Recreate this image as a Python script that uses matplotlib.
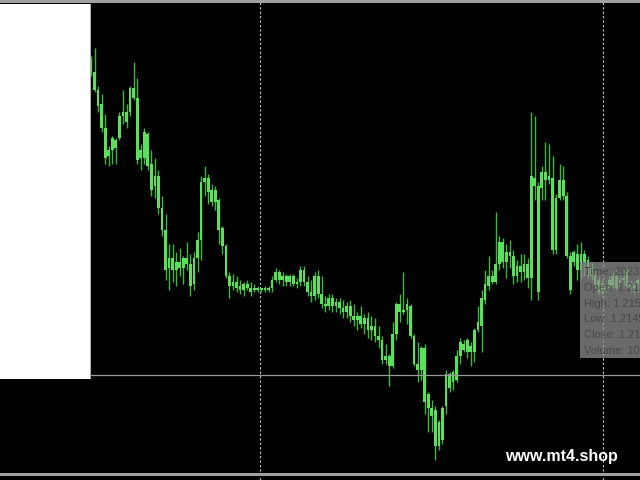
import matplotlib.pyplot as plt
from matplotlib.patches import Rectangle
from matplotlib.lines import Line2D

# candle data (EURUSD-like M-something chart), oldest -> newest
opens = [1.2270, 1.2264, 1.2255, 1.2248, 1.2236, 1.2222, 1.2225, 1.2226, 1.2231, 1.2242,
         1.2244, 1.2244, 1.2256, 1.2251, 1.2221, 1.2221, 1.2233, 1.2218, 1.2207, 1.2212,
         1.2196, 1.2185, 1.2166, 1.2171, 1.2165, 1.2169, 1.2166, 1.2171, 1.2168, 1.2158,
         1.2171, 1.2180, 1.2209, 1.2211, 1.2205, 1.2199, 1.2200, 1.2186, 1.2177, 1.2162,
         1.2157, 1.2159, 1.2157, 1.2155, 1.2158, 1.2156, 1.2155, 1.2156, 1.2155, 1.2156,
         1.2155, 1.2156, 1.2160, 1.2164, 1.2160, 1.2162, 1.2159, 1.2162, 1.2158, 1.2159,
         1.2165, 1.2159, 1.2154, 1.2152, 1.2162, 1.2153, 1.2148, 1.2147, 1.2151, 1.2147,
         1.2149, 1.2146, 1.2144, 1.2147, 1.2142, 1.2140, 1.2142, 1.2138, 1.2141, 1.2135,
         1.2137, 1.2132, 1.2130, 1.2120, 1.2122, 1.2117, 1.2133, 1.2148, 1.2144, 1.2145,
         1.2147, 1.2132, 1.2118, 1.2115, 1.2126, 1.2103, 1.2096, 1.2095, 1.2077, 1.2080,
         1.2097, 1.2113, 1.2109, 1.2110, 1.2122, 1.2128, 1.2124, 1.2127, 1.2124, 1.2135,
         1.2137, 1.2150, 1.2157, 1.2162, 1.2159, 1.2168, 1.2179, 1.2169, 1.2174, 1.2172,
         1.2162, 1.2167, 1.2164, 1.2168, 1.2161, 1.2211, 1.2207, 1.2206, 1.2214, 1.2210,
         1.2211, 1.2175, 1.2201, 1.2210, 1.2202, 1.2172, 1.2169, 1.2173, 1.2165, 1.2173,
         1.2170, 1.2166, 1.2163, 1.2160, 1.2154, 1.2157, 1.2156, 1.2157, 1.2162, 1.2157,
         1.2160, 1.2164, 1.2158, 1.2156, 1.2158]
highs = [1.2272, 1.2276, 1.2257, 1.2253, 1.2243, 1.2227, 1.2232, 1.2231, 1.2244, 1.2255,
         1.2248, 1.2257, 1.2269, 1.2261, 1.2228, 1.2236, 1.2234, 1.2225, 1.2221, 1.2215,
         1.2202, 1.2193, 1.2178, 1.2178, 1.2174, 1.2176, 1.2172, 1.2179, 1.2173, 1.2174,
         1.2184, 1.2212, 1.2217, 1.2213, 1.2208, 1.2207, 1.2201, 1.2187, 1.2178, 1.2164,
         1.2163, 1.2162, 1.2160, 1.2159, 1.2160, 1.2159, 1.2158, 1.2157, 1.2156, 1.2157,
         1.2157, 1.2162, 1.2166, 1.2165, 1.2164, 1.2163, 1.2163, 1.2163, 1.2161, 1.2167,
         1.2167, 1.2162, 1.2160, 1.2164, 1.2165, 1.2162, 1.2152, 1.2153, 1.2153, 1.2151,
         1.2151, 1.2150, 1.2149, 1.2150, 1.2148, 1.2144, 1.2147, 1.2143, 1.2144, 1.2142,
         1.2141, 1.2137, 1.2132, 1.2128, 1.2123, 1.2139, 1.2149, 1.2153, 1.2164, 1.2151,
         1.2148, 1.2133, 1.2129, 1.2127, 1.2128, 1.2104, 1.2100, 1.2097, 1.2090, 1.2097,
         1.2115, 1.2114, 1.2115, 1.2125, 1.2131, 1.2130, 1.2131, 1.2129, 1.2136, 1.2147,
         1.2155, 1.2165, 1.2172, 1.2165, 1.2194, 1.2182, 1.2181, 1.2178, 1.2180, 1.2175,
         1.2170, 1.2173, 1.2173, 1.2171, 1.2244, 1.2242, 1.2209, 1.2217, 1.2229, 1.2228,
         1.2222, 1.2203, 1.2218, 1.2217, 1.2204, 1.2174, 1.2175, 1.2178, 1.2179, 1.2175,
         1.2172, 1.2169, 1.2165, 1.2162, 1.2160, 1.2158, 1.2162, 1.2164, 1.2165, 1.2162,
         1.2165, 1.2166, 1.2160, 1.2159, 1.2161]
lows = [1.2262, 1.2254, 1.2244, 1.2234, 1.2218, 1.2217, 1.2218, 1.2218, 1.2230, 1.2238,
        1.2236, 1.2242, 1.2250, 1.2218, 1.2215, 1.2218, 1.2215, 1.2202, 1.2201, 1.2193,
        1.2182, 1.2160, 1.2155, 1.2159, 1.2157, 1.2162, 1.2158, 1.2165, 1.2152, 1.2155,
        1.2164, 1.2170, 1.2202, 1.2198, 1.2197, 1.2195, 1.2178, 1.2173, 1.2161, 1.2151,
        1.2155, 1.2154, 1.2153, 1.2152, 1.2155, 1.2152, 1.2154, 1.2154, 1.2154, 1.2154,
        1.2154, 1.2154, 1.2159, 1.2158, 1.2157, 1.2157, 1.2157, 1.2157, 1.2156, 1.2157,
        1.2157, 1.2152, 1.2149, 1.2150, 1.2151, 1.2146, 1.2144, 1.2145, 1.2144, 1.2144,
        1.2143, 1.2141, 1.2141, 1.2139, 1.2137, 1.2135, 1.2136, 1.2133, 1.2131, 1.2130,
        1.2129, 1.2126, 1.2118, 1.2118, 1.2107, 1.2116, 1.2130, 1.2139, 1.2143, 1.2138,
        1.2131, 1.2117, 1.2109, 1.2110, 1.2093, 1.2084, 1.2084, 1.2070, 1.2075, 1.2078,
        1.2093, 1.2104, 1.2105, 1.2109, 1.2118, 1.2124, 1.2121, 1.2117, 1.2119, 1.2134,
        1.2124, 1.2148, 1.2155, 1.2158, 1.2158, 1.2165, 1.2166, 1.2161, 1.2166, 1.2158,
        1.2159, 1.2159, 1.2160, 1.2156, 1.2150, 1.2200, 1.2150, 1.2200, 1.2200, 1.2208,
        1.2173, 1.2173, 1.2200, 1.2200, 1.2171, 1.2153, 1.2167, 1.2160, 1.2161, 1.2162,
        1.2161, 1.2160, 1.2156, 1.2153, 1.2153, 1.2154, 1.2155, 1.2156, 1.2155, 1.2156,
        1.2157, 1.2156, 1.2154, 1.2153, 1.2154]
closes = [1.2264, 1.2255, 1.2247, 1.2236, 1.2221, 1.2225, 1.2231, 1.2230, 1.2242, 1.2244,
          1.2239, 1.2256, 1.2251, 1.2220, 1.2225, 1.2234, 1.2217, 1.2205, 1.2212, 1.2196,
          1.2185, 1.2165, 1.2171, 1.2165, 1.2169, 1.2166, 1.2171, 1.2168, 1.2157, 1.2171,
          1.2180, 1.2209, 1.2211, 1.2204, 1.2199, 1.2205, 1.2185, 1.2177, 1.2162, 1.2157,
          1.2159, 1.2156, 1.2155, 1.2158, 1.2156, 1.2154, 1.2156, 1.2155, 1.2156, 1.2155,
          1.2156, 1.2160, 1.2164, 1.2160, 1.2162, 1.2159, 1.2162, 1.2158, 1.2159, 1.2165,
          1.2159, 1.2154, 1.2152, 1.2162, 1.2153, 1.2148, 1.2147, 1.2151, 1.2147, 1.2149,
          1.2146, 1.2144, 1.2147, 1.2142, 1.2140, 1.2142, 1.2138, 1.2141, 1.2135, 1.2137,
          1.2132, 1.2130, 1.2120, 1.2122, 1.2117, 1.2133, 1.2148, 1.2144, 1.2145, 1.2148,
          1.2132, 1.2118, 1.2115, 1.2126, 1.2099, 1.2096, 1.2092, 1.2077, 1.2089, 1.2096,
          1.2113, 1.2106, 1.2114, 1.2122, 1.2129, 1.2125, 1.2130, 1.2124, 1.2135, 1.2139,
          1.2151, 1.2158, 1.2162, 1.2159, 1.2168, 1.2179, 1.2169, 1.2174, 1.2172, 1.2162,
          1.2167, 1.2164, 1.2168, 1.2161, 1.2212, 1.2207, 1.2154, 1.2214, 1.2210, 1.2212,
          1.2175, 1.2201, 1.2210, 1.2202, 1.2172, 1.2155, 1.2174, 1.2165, 1.2173, 1.2169,
          1.2162, 1.2162, 1.2157, 1.2154, 1.2158, 1.2155, 1.2160, 1.2162, 1.2156, 1.2160,
          1.2161, 1.2157, 1.2156, 1.2158, 1.2160]

# grid separators (bar index) and crosshair price
grid_bars = [47.6, 144.2]

tooltip = ["Time: 2023.06.14 10:00", "Open: 1.2150", "High: 1.2154",
           "Low: 1.2145", "Close: 1.2151", "Volume: 1043"]
watermark = "www.mt4.shop"

W, H = 640, 480
step = 3.55      # pixels per bar
first_px = 91    # pixel x of the first bar

body_col = '#5ae05a'
wick_col = '#3cb83c'


def fig_rect(x0, y0, x1, y1, **kw):
    # rectangle given in screen pixels (y from the top)
    return Rectangle((x0 / W, 1 - y1 / H), (x1 - x0) / W, (y1 - y0) / H,
                     transform=fig.transFigure, **kw)


fig = plt.figure(figsize=(6.4, 4.8), dpi=100)
fig.patch.set_facecolor('black')
ax = fig.add_axes([0, 0, 1, 1])
ax.set_facecolor('black')
ax.set_xlim(-first_px / step, (W - first_px) / step)
ax.set_ylim(1.2060, 1.2300)
ax.set_axis_off()

xs = list(range(len(closes)))

# dashed time separators
for g in grid_bars:
    ax.axvline(g, color='#c8c8c8', lw=0.8, ls=(0, (2, 2)), zorder=1)

# candles: wicks then bodies
ax.vlines(xs, lows, highs, color=wick_col, lw=1.0, zorder=2)
bottoms = [min(o, c) for o, c in zip(opens, closes)]
heights = [max(abs(c - o), 0.00006) for o, c in zip(opens, closes)]
ax.bar(xs, heights, bottom=bottoms, width=0.78, color=body_col, lw=0, zorder=3)

# frame bits of the terminal window
fig.add_artist(fig_rect(0, 0, W, 3, color='#a0a0a0', lw=0, zorder=5))
fig.add_artist(fig_rect(0, 473, W, 475.5, color='#a0a0a0', lw=0, zorder=5))
fig.add_artist(fig_rect(0, 4, 89.5, 379, color='white', lw=0, zorder=5))
fig.add_artist(fig_rect(89.5, 4, 90.5, 379, color='#b0b0b0', lw=0, zorder=5))

# crosshair line
fig.add_artist(Line2D([90 / W, 1], [1 - 374.5 / H] * 2, transform=fig.transFigure,
                      color='#9a9a9a', lw=0.9, zorder=5))

# data window tooltip (runs off the right edge, as in the terminal)
fig.add_artist(fig_rect(580, 262, W, 358, facecolor='#8e8e8e', alpha=0.75, lw=0, zorder=6))
for k, line in enumerate(tooltip):
    fig.text(584 / W, 1 - (272 + 15.8 * k) / H, line, color='#484848',
             fontsize=8, family='Liberation Sans', va='center', zorder=7)

fig.text(505 / W, 1 - 456 / H, watermark, color='white', fontsize=11.5,
         fontweight='bold', family='Liberation Sans', va='center', zorder=7)

fig.savefig('out.png', dpi=100, facecolor='black')
